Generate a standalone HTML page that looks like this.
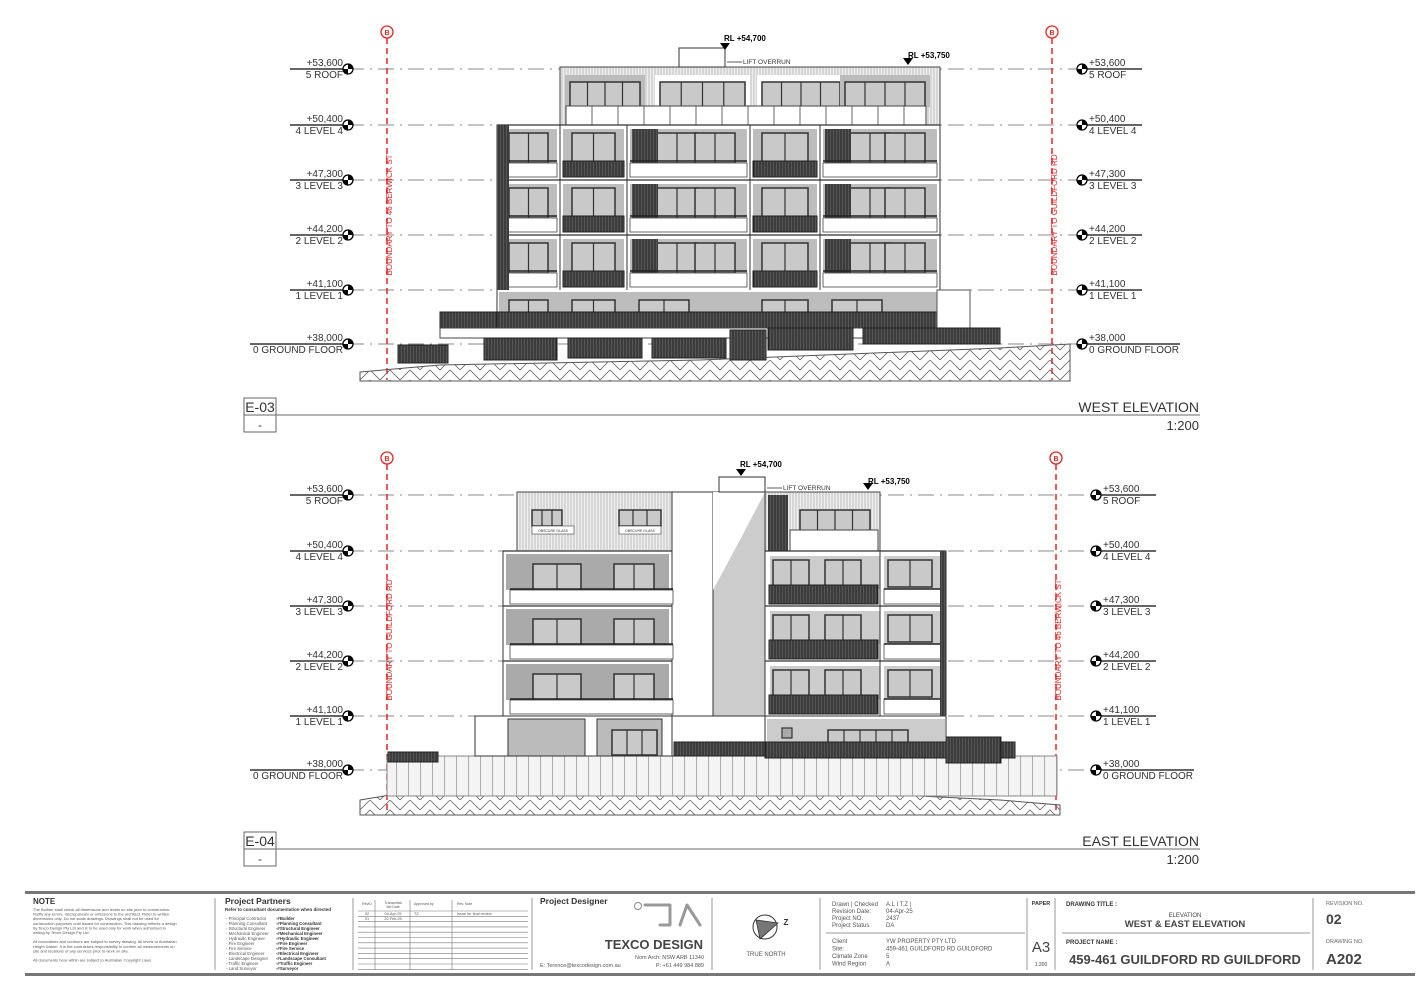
<!DOCTYPE html>
<html><head><meta charset="utf-8">
<style>
html,body{margin:0;padding:0;background:#fff;}
svg{display:block;font-family:"Liberation Sans",Arial,sans-serif;}
</style></head>
<body>
<svg id="s" width="1422" height="990" viewBox="0 0 1422 990" xmlns="http://www.w3.org/2000/svg">
<defs>
<pattern id="hatch" width="20" height="20" patternUnits="userSpaceOnUse">
<path d="M0 10 L10 0 L20 10 M0 20 L10 10 L20 20" stroke="#666" stroke-width="0.8" fill="none"/>
</pattern>
<pattern id="slat" width="3" height="10" patternUnits="userSpaceOnUse">
<rect width="3" height="10" fill="#555"/><line x1="1" y1="0" x2="1" y2="10" stroke="#222" stroke-width="1"/>
</pattern>
<pattern id="vcl" width="3" height="10" patternUnits="userSpaceOnUse">
<rect width="3" height="10" fill="#eee"/><line x1="1" y1="0" x2="1" y2="10" stroke="#aaa" stroke-width="0.7"/>
</pattern>
<pattern id="fence" width="12" height="10" patternUnits="userSpaceOnUse">
<rect width="12" height="10" fill="#f4f4f4"/><line x1="0.5" y1="0" x2="0.5" y2="10" stroke="#999" stroke-width="0.8"/>
</pattern>
</defs>
<g id="g"></g>
</svg>
<script>
var g=document.getElementById('g'),NS='http://www.w3.org/2000/svg';
function E(t,a,txt){var e=document.createElementNS(NS,t);for(var k in a)e.setAttribute(k,a[k]);if(txt!==undefined)e.textContent=txt;g.appendChild(e);return e;}
function R(x,y,w,h,f,s,sw){return E('rect',{x:x,y:y,width:w,height:h,fill:f||'none',stroke:s||'none','stroke-width':sw||1});}
function L(x1,y1,x2,y2,s,sw,da){var a={x1:x1,y1:y1,x2:x2,y2:y2,stroke:s||'#000','stroke-width':sw||1};if(da)a['stroke-dasharray']=da;return E('line',a);}
function T(x,y,t,sz,anc,col,wt){return E('text',{x:x,y:y,'font-size':sz,'text-anchor':anc||'start',fill:col||'#222','font-weight':wt||'normal'},t);}
function win(x,y,w,h,n){R(x,y,w,h,'#c9c9c9','#333',1.5);for(var i=1;i<n;i++)L(x+w*i/n,y,x+w*i/n,y+h,'#333',1.2);}
function marker(x,y){E('circle',{cx:x,cy:y,r:5,fill:'#fff',stroke:'#000','stroke-width':1.3});E('path',{d:'M'+x+' '+(y-5)+' A5 5 0 0 1 '+(x+5)+' '+y+' L'+x+' '+y+'Z',fill:'#000'});E('path',{d:'M'+x+' '+(y+5)+' A5 5 0 0 1 '+(x-5)+' '+y+' L'+x+' '+y+'Z',fill:'#000'});}
function levels(ys,xl,xr){
 var lab=[['+53,600','5 ROOF'],['+50,400','4 LEVEL 4'],['+47,300','3 LEVEL 3'],['+44,200','2 LEVEL 2'],['+41,100','1 LEVEL 1'],['+38,000','0 GROUND FLOOR']];
 ys.forEach(function(y,i){
  L(xl,y,xr,y,'#888',1,'16 6 2 6');
  L(i==5?250:290,y,xl,y,'#333',1.5);
  L(xr,y,i==5?xr+98:xr+60,y,'#333',1.5);
  marker(xl,y);marker(xr,y);
  T(xl-5,y-3,lab[i][0],10,'end','#333');T(xl-5,y+9,lab[i][1],10,'end','#333');
  T(xr+7,y-3,lab[i][0],10,'start','#333');T(xr+7,y+9,lab[i][1],10,'start','#333');
 });
}
function boundary(x,y0,y1,txt,ty){
 L(x,y0+6,x,y1,'#e22',1.5,'6 4');
 E('circle',{cx:x,cy:y0,r:6,fill:'#fff',stroke:'#e22','stroke-width':1.3});T(x,y0+3,'B',7,'middle','#e22','bold');
 var t=T(0,0,txt,8,'middle','#e22');t.setAttribute('transform','translate('+(x+5)+','+ty+') rotate(-90)');
}
function title(y,code,name){
 R(244,y,32,34,'#fff','#666',1);L(244,y+17,276,y+17,'#666',1);
 L(276,y+17,1200,y+17,'#888',1.3);
 T(260,y+14,code,14,'middle','#333');T(260,y+31,'-',12,'middle','#333');
 T(1199,y+14,name,14,'end','#333');T(1199,y+32,'1:200',13,'end','#333');
}
var wy=[69,125,180,235,290,344];
levels(wy,348,1082);
boundary(387,32,380,'BOUNDARY TO 46 BERWICK ST',215);
boundary(1052,32,380,'BOUNDARY TO GUILDFORD RD',215);
E('path',{d:'M360 372 L440 365 L700 360 L1000 348 L1070 344 L1070 381 L360 381Z',fill:'url(#hatch)',stroke:'#555','stroke-width':1});
R(560,67,380,58,'url(#vcl)','#444',1);
[[570,640],[660,745],[762,840],[845,925]].forEach(function(b,i){R(b[0]-5,75,b[1]-b[0]+10,32,i==0||i==3?'#bbb':'#fff','none');win(b[0],82,b[1]-b[0],26,4);});
R(566,106,360,19,'#fff','#444',1);for(var x=566;x<926;x+=26)L(x,106,x,125,'#444',0.8);
R(679,48,46,19,'#fff','#333',1);
E('path',{d:'M720 43 L730 43 L725 50Z',fill:'#000'});T(724,41,'RL +54,700',8,'start','#000','bold');
E('path',{d:'M903 58 L913 58 L908 65Z',fill:'#000'});T(908,58,'RL +53,750',8,'start','#000','bold');
L(727,62,742,62,'#333',0.8);T(743,64,'LIFT OVERRUN',6.5,'start','#333');
R(497,125,443,200,'#fff','#333',1);
var wb=[[497,560],[560,627],[627,750],[750,820],[820,940]];
[125,180,235].forEach(function(y0){
 L(497,y0,940,y0,'#333',1.2);
 wb.forEach(function(b,i){
  R(b[0]+3,y0+4,b[1]-b[0]-6,34,'#bdbdbd','none');
  if(i==2||i==4){win(b[0]+30,y0+8,40,30,2);win(b[1]-55,y0+8,40,30,2);R(b[0]+5,y0+4,26,48,'url(#slat)','none');}
  else win(b[0]+12,y0+8,b[1]-b[0]-24,30,2);
  if(i==1||i==3)R(b[0]+3,y0+36,b[1]-b[0]-6,16,'url(#slat)','#222',1);
  else{R(b[0]+3,y0+38,b[1]-b[0]-6,14,'#fff','#444',0.8);L(b[0]+3,y0+36,b[1]-3,y0+36,'#222',1.5);}
 });
 wb.forEach(function(b){L(b[0],y0,b[0],y0+55,'#333',1);});
});
R(497,125,12,165,'url(#slat)','none');
R(499,292,440,22,'#bdbdbd','none');
wb.forEach(function(b){win(b[0]+12,300,Math.min(50,b[1]-b[0]-24),18,2);});
R(497,312,440,16,'url(#slat)','#222',1);
R(440,312,57,22,'url(#slat)','#222',1);
R(937,290,33,38,'#fff','#555',1);
R(440,328,560,10,'#fff','#444',1);
R(398,345,50,18,'url(#slat)','#222',1);R(484,338,73,22,'url(#slat)','#222',1);R(568,338,74,20,'url(#slat)','#222',1);
R(652,338,74,20,'url(#slat)','#222',1);R(730,330,36,30,'url(#slat)','#222',1);R(768,328,85,22,'url(#slat)','#222',1);R(863,328,137,16,'url(#slat)','#222',1);
title(398,'E-03','WEST ELEVATION');
var ey=[495,551,606,661,716,770];
levels(ey,348,1096);
boundary(387,458,810,'BOUNDARY TO GUILDFORD RD',640);
boundary(1056,458,810,'BOUNDARY TO 46 BERWICK ST',640);
E('path',{d:'M360 800 L420 790 L700 785 L1000 800 L1060 805 L1060 815 L360 815Z',fill:'url(#hatch)',stroke:'#555','stroke-width':1});
R(387,756,670,40,'url(#fence)','#888',1);
R(517,492,155,59,'url(#vcl)','#444',1);
win(532,510,30,16,3);win(619,510,42,16,3);R(532,526,42,8,'#fff','#444',0.6);R(619,526,42,8,'#fff','#444',0.6);
T(553,532,'OBSCURE GLASS',3.5,'middle','#333');T(640,532,'OBSCURE GLASS',3.5,'middle','#333');
R(672,492,93,224,'#fff','#333',1);R(713,492,52,224,'#ccc','#333',1);E('path',{d:'M713 492 L765 492 L740 540 L713 590Z',fill:'#fff'});
R(719,477,46,15,'#fff','#333',1);
E('path',{d:'M736 469 L746 469 L741 476Z',fill:'#000'});T(740,467,'RL +54,700',8,'start','#000','bold');
E('path',{d:'M863 483 L873 483 L868 490Z',fill:'#000'});T(868,484,'RL +53,750',8,'start','#000','bold');
L(767,488,782,488,'#333',0.8);T(783,490,'LIFT OVERRUN',6.5,'start','#333');
R(765,492,115,59,'url(#vcl)','#444',1);R(768,495,20,56,'url(#slat)','none');win(800,510,70,21,4);R(790,530,88,21,'#fff','#444',1);
R(503,551,169,165,'#fff','#333',1);
R(765,551,181,165,'#fff','#333',1);
[551,606,661].forEach(function(y0){
 L(503,y0,672,y0,'#333',1.2);L(765,y0,946,y0,'#333',1.2);
 R(506,y0+3,163,36,'#aaa','none');win(533,y0+13,48,27,2);win(614,y0+13,40,27,2);
 R(510,y0+39,163,14,'#fff','#444',0.8);L(510,y0+38,673,y0+38,'#222',1.5);
 R(770,y0+5,110,33,'#ccc','none');win(773,y0+9,36,30,2);win(825,y0+9,36,30,2);
 R(769,y0+34,109,19,'url(#slat)','#222',1);
 R(884,y0+5,58,33,'#ccc','none');win(888,y0+9,44,27,2);R(884,y0+38,58,15,'#fff','#444',0.8);L(884,y0+38,942,y0+38,'#222',1.5);
 L(880,y0,880,y0+55,'#333',1);
});
R(940,551,6,165,'url(#slat)','none');
R(475,716,197,40,'#fff','#333',1);R(508,719,77,37,'#bbb','#333',1);R(597,719,65,37,'#bbb','#333',1);win(612,730,45,25,3);
R(672,716,93,40,'#fff','#333',1);R(674,742,130,14,'url(#slat)','#222',1);
R(765,716,181,40,'#fff','#333',1);R(767,719,178,28,'#ccc','none');win(828,730,80,25,5);R(782,728,10,10,'#aaa','#333',1.2);
R(765,742,250,16,'url(#slat)','#222',1);R(946,737,55,26,'url(#slat)','#222',1);
R(388,752,50,10,'url(#slat)','#222',1);
title(832,'E-04','EAST ELEVATION');
R(25,891,1390,3,'#777');R(25,973,1390,3,'#777');
[215,353,532,712,820,1027,1055,1313].forEach(function(x){L(x,898,x,970,'#999',1);});
T(33,904,'NOTE',8,'start','#333','bold');
var note=['The Builder shall check all dimensions and levels on site prior to construction.','Notify any errors, discrepancies or omissions to the architect. Refer to written','dimensions only. Do not scale drawings. Drawings shall not be used for','construction purposes until issued for construction. This drawing reflects a design','by Texco Design Pty Ltd and is to be used only for work when authorised in','writing by Texco Design Pty Ltd.','','All boundaries and contours are subject to survey drawing. All levels to Australian','Height Datum. It is the contractors responsibility to confirm all measurements on','site and locations of any services prior to work on site.','','All documents here within are subject to Australian Copyright Laws.'];
note.forEach(function(t,i){T(33,911+i*4.6,t,4,'start','#555');});
T(225,904,'Project Partners',8.5,'start','#333','bold');
T(225,911,'Refer to consultant documentation when directed',4.5,'start','#333','bold');
var pp=[['Principal Contractor','#Builder'],['Planning Consultant','#Planning Consultant'],['Structural Engineer','#Structural Engineer'],['Mechanical Engineer','#Mechanical Engineer'],['Hydraulic Engineer','#Hydraulic Engineer'],['Fire Engineer','#Fire Engineer'],['Fire Service','#Fire Service'],['Electrical Engineer','#Electrical Engineer'],['Landscape Designer','#Landscape Consultant'],['Traffic Engineer','#Traffic Engineer'],['Land Surveyor','#Surveyor']];
pp.forEach(function(p,i){T(226,920+i*5,'- '+p[0],4.3,'start','#555');T(276,920+i*5,'-'+p[1],4.3,'start','#333','bold');});
for(var i=0;i<12;i++)L(358,911+i*5.3,528,911+i*5.3,'#777',0.6);
[375,410,452].forEach(function(x){L(x,900,x,970,'#777',0.6);});
T(367,905,'RevID',3.5,'middle','#555');T(393,904,'Transmittal',3.5,'middle','#555');T(393,908,'Set Date',3.5,'middle','#555');T(414,905,'Approved by',3.5,'start','#555');T(457,905,'Rev. Note',3.5,'start','#555');
T(367,915,'02',3.8,'middle','#555');T(393,915,'04-Apr-25',3.8,'middle','#555');T(414,915,'TZ',3.8,'start','#555');T(457,915,'Issue for final review',3.8,'start','#555');
T(367,920,'01',3.8,'middle','#555');T(393,920,'20-Feb-25',3.8,'middle','#555');
T(540,904,'Project Designer',8.5,'start','#333','bold');
E('circle',{cx:638,cy:906,r:3.5,fill:'none',stroke:'#888','stroke-width':1});
E('path',{d:'M645 905 L670 905 L670 925 L660 925 M680 925 L687 905 L700 925',fill:'none',stroke:'#999','stroke-width':3,'stroke-linejoin':'round','stroke-linecap':'round'});
T(703,949,'TEXCO DESIGN',13,'end','#444','bold');
T(704,959,'Nom Arch: NSW ARB 11340',5.5,'end','#555');T(704,967,'P: +61 449 984 889',5.5,'end','#555');
T(540,967,'E: Terence@texcodesign.com.au',5.5,'start','#555');
E('circle',{cx:765,cy:927,r:12,fill:'#fff',stroke:'#333','stroke-width':1});
E('path',{d:'M756 920 L778 923 L760 939Z',fill:'#777',stroke:'#333','stroke-width':0.8});
T(786,925,'Z',8,'middle','#333','bold');T(766,956,'TRUE NORTH',6,'middle','#555');
var inf=[['Drawn | Checked','A.L I T.Z |'],['Revision Date:','04-Apr-25'],['Project NO.','2437'],['Project Status','DA']];
inf.forEach(function(p,i){T(832,906+i*7,p[0],6,'start','#555');T(886,906+i*7,p[1],6,'start','#555');});
L(826,933,1025,933,'#999',1);
var inf2=[['Client','YW PROPERTY PTY LTD'],['Site:','459-461 GUILDFORD RD GUILDFORD'],['Climate Zone','5'],['Wind Region','A']];
inf2.forEach(function(p,i){T(832,943+i*7.5,p[0],6,'start','#555');T(886,943+i*7.5,p[1],6,'start','#555');});
T(1041,905,'PAPER',5.5,'middle','#333','bold');T(1041,952,'A3',15,'middle','#444');T(1041,966,'1:200',5,'middle','#444');
T(1066,906,'DRAWING TITLE :',6,'start','#333','bold');T(1185,917,'ELEVATION',6,'middle','#444');T(1185,927,'WEST & EAST ELEVATION',9.5,'middle','#444','bold');
L(1062,933,1310,933,'#999',1);
T(1066,944,'PROJECT NAME :',6,'start','#333','bold');T(1185,964,'459-461 GUILDFORD RD GUILDFORD',13,'middle','#444','bold');
T(1326,905,'REVISION NO.',5.5,'start','#666');T(1326,924,'02',14,'start','#444','bold');T(1326,943,'DRAWING NO.',5.5,'start','#666');T(1326,964,'A202',15,'start','#444','bold');
</script>
</body></html>
